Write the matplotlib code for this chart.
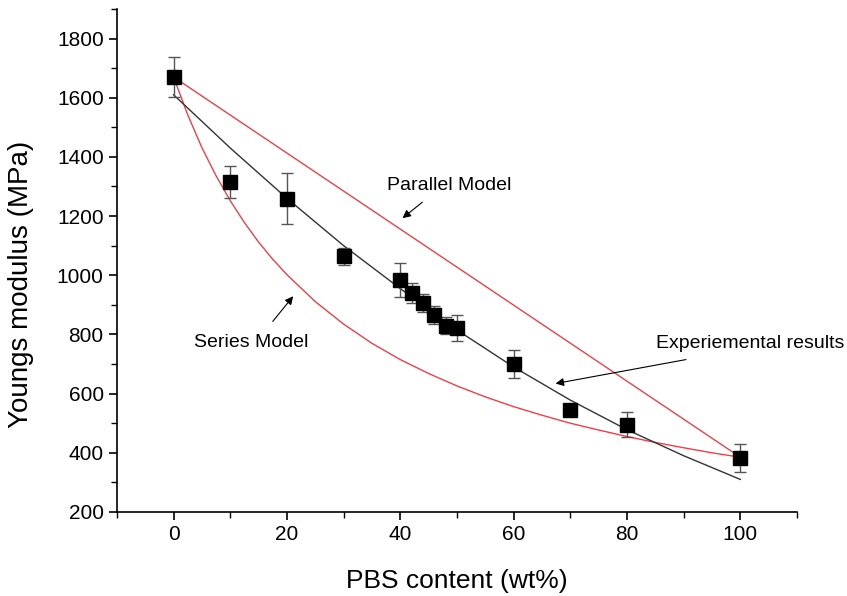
import matplotlib.pyplot as plt

plt.rcParams['font.family'] = ['Liberation Sans', 'DejaVu Sans']

# Experimental data
pbs = [0, 10, 20, 30, 40, 42, 44, 46, 48, 50, 60, 70, 80, 100]
modulus = [1670, 1315, 1258, 1064, 985, 940, 905, 865, 830, 822, 700, 545, 495, 383]
err = [67, 55, 86, 29, 58, 35, 30, 30, 30, 45, 46, 0, 42, 47]

# Fitted curve through the experimental results
fit_x = [0, 10, 20, 30, 40, 50, 60, 70, 80, 90, 100]
fit_y = [1610, 1430, 1260, 1100, 955, 815, 690, 578, 478, 390, 310]

# Parallel model
par_x = [0, 100]
par_y = [1670, 385]

# Series model
ser_x = [0, 2.5, 5, 7.5, 10, 12.5, 15, 17.5, 20, 25, 30, 35, 40, 45, 50, 55, 60,
         65, 70, 75, 80, 85, 90, 95, 100]
ser_y = [1670, 1542, 1431, 1336, 1252, 1178, 1112, 1054, 1002, 911, 835, 770, 715,
         668, 626, 589, 556, 527, 500, 477, 455, 435, 417, 400, 385]

fig = plt.figure(figsize=(8.47, 5.96), dpi=100)
ax = fig.add_axes([0.138, 0.141, 0.803, 0.844])

ax.plot(par_x, par_y, color='#e8424a', linewidth=1)
ax.plot(ser_x, ser_y, color='#e8424a', linewidth=1)
ax.plot(fit_x, fit_y, color='#333333', linewidth=1)
ax.errorbar(pbs, modulus, yerr=err, fmt='s', color='black', markersize=10,
            ecolor='#555555', elinewidth=1, capsize=4, capthick=1, zorder=3)

# annotations with arrows
arrow = dict(arrowstyle='-|>', color='black', lw=0.8, mutation_scale=12,
             shrinkA=0, shrinkB=0)
ax.annotate('', xy=(40.4, 1193), xytext=(43.9, 1247), arrowprops=arrow)
ax.text(37.7, 1304, 'Parallel Model', fontsize=14, va='center')
ax.annotate('', xy=(21.1, 929), xytext=(17.5, 844), arrowprops=arrow)
ax.text(3.6, 772, 'Series Model', fontsize=14, va='center')
ax.annotate('', xy=(67.4, 634), xytext=(90.4, 715), arrowprops=arrow)
ax.text(85.2, 768, 'Experiemental results', fontsize=14, va='center')

ax.set_xlim(-10, 110)
ax.set_ylim(200, 1900)
ax.set_xticks([0, 20, 40, 60, 80, 100])
ax.set_xticks(range(-10, 111, 10), minor=True)
ax.set_yticks(range(200, 1801, 200))
ax.set_yticks(range(200, 1901, 100), minor=True)
ax.tick_params(which='major', direction='out', length=6, width=1.2, labelsize=15)
ax.tick_params(which='minor', direction='out', length=4, width=1)

ax.spines['top'].set_visible(False)
ax.spines['right'].set_visible(False)
ax.spines['left'].set_linewidth(1.2)
ax.spines['bottom'].set_linewidth(1.2)

ax.set_xlabel('PBS content (wt%)', fontsize=19, labelpad=18)
ax.set_ylabel('Youngs modulus (MPa)', fontsize=20)
ax.yaxis.set_label_coords(-0.122, 0.453)

fig.savefig('out.png', dpi=100)
